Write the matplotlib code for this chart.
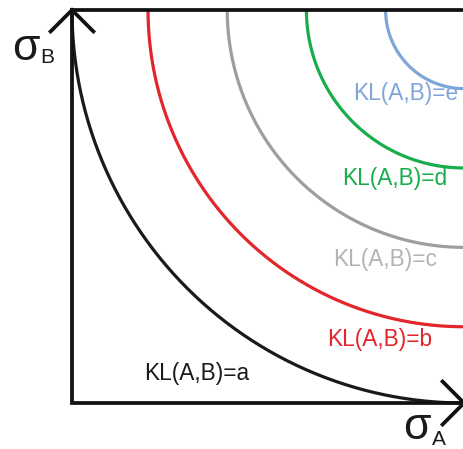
import matplotlib
matplotlib.use("Agg")
import matplotlib.pyplot as plt
import numpy as np

plt.rcParams['font.family'] = ['Liberation Sans', 'DejaVu Sans']

# Iso-divergence contours: quarter circles about the top-right corner
levels = ["a", "b", "c", "d", "e"]
radii = [5.0, 4.03, 3.02, 2.01, 1.0]
line_colors = ["#1a1a1a", "#e3262b", "#9e9e9e", "#17ad4b", "#7fa6d9"]
text_colors = ["#1a1a1a", "#e3262b", "#b4b4b4", "#17ad4b", "#7fa6d9"]
label_x = [1.59, 3.93, 3.99, 4.12, 4.26]
label_y = [0.29, 0.72, 1.74, 2.77, 3.86]

x_max, y_max = 5.0, 5.0

fig = plt.figure(figsize=(4.64, 4.49), dpi=100)
ax = fig.add_axes([72 / 464, 1 - 403 / 449, 392 / 464, 393 / 449])
ax.set_xlim(0, x_max)
ax.set_ylim(0, y_max)
ax.axis("off")

t = np.linspace(0, np.pi / 2, 300)
for r, c in zip(radii, line_colors):
    ax.plot(x_max - r * np.cos(t), y_max - r * np.sin(t), color=c, lw=2.3,
            solid_capstyle="butt", clip_on=False, zorder=2)

for lv, xl, yl, tc in zip(levels, label_x, label_y, text_colors):
    ax.text(xl, yl, f"KL(A,B)={lv}", color=tc, fontsize=16.3,
            ha="center", va="baseline", zorder=3)

# Frame: left and bottom axes plus top edge
ax_lw = 2.7
ax.plot([0, 0, x_max], [y_max, 0, 0], color="#111111", lw=ax_lw,
        solid_joinstyle="miter", clip_on=False, zorder=4)
ax.plot([0, x_max], [y_max, y_max], color="#111111", lw=ax_lw,
        solid_capstyle="projecting", clip_on=False, zorder=4)
ax.plot([x_max, x_max], [0, y_max], color="#e2e2e2", lw=0.8,
        clip_on=False, zorder=1)

# Open arrowheads at the axis ends
w = 0.29
ax.plot([-w, 0, w], [y_max - w, y_max, y_max - w], color="#111111", lw=ax_lw,
        solid_joinstyle="miter", solid_capstyle="butt", clip_on=False, zorder=4)
ax.plot([x_max - w, x_max, x_max - w], [w, 0, -w], color="#111111", lw=ax_lw,
        solid_joinstyle="miter", solid_capstyle="butt", clip_on=False, zorder=4)

# Axis labels
fig.text(12 / 464, 1 - 60 / 449, "σ", fontsize=32, color="#1a1a1a",
         ha="left", va="baseline")
fig.text(40 / 464, 1 - 63 / 449, "B", fontsize=15, color="#1a1a1a",
         ha="left", va="baseline")
fig.text(403 / 464, 1 - 439 / 449, "σ", fontsize=32, color="#1a1a1a",
         ha="left", va="baseline")
fig.text(432 / 464, 1 - 445 / 449, "A", fontsize=15, color="#1a1a1a",
         ha="left", va="baseline")

fig.savefig("out.png", dpi=100, facecolor="white")
